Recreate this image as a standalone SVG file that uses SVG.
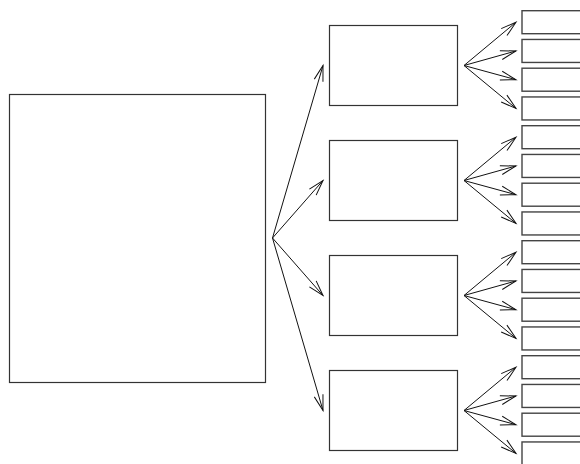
<svg xmlns="http://www.w3.org/2000/svg" width="580" height="464" viewBox="0 0 580 464">
<style>
.box{fill:#fff;stroke:#333;stroke-width:1.2}
.leaf{fill:#fff;stroke:#444;stroke-width:1.4}
.edge{fill:none;stroke:#111;stroke-width:1;marker-end:url(#ah)}
</style>
<defs>
<marker id="ah" markerUnits="userSpaceOnUse" markerWidth="18" markerHeight="12" refX="0" refY="0" viewBox="-16 -6 18 12" orient="auto" overflow="visible">
<path d="M-15.5,-4.5 L0,0 L-15.5,4.5" fill="none" stroke="#111" stroke-width="1"/>
</marker>
</defs>
<rect width="580" height="464" fill="#fff"/>
<g id="root"><rect class="box" x="9.5" y="94.5" width="256" height="288"/></g>
<g id="m1"><rect class="box" x="329.5" y="25.5" width="128" height="80"/></g>
<g id="m2"><rect class="box" x="329.5" y="140.5" width="128" height="80"/></g>
<g id="m3"><rect class="box" x="329.5" y="255.5" width="128" height="80"/></g>
<g id="m4"><rect class="box" x="329.5" y="370.5" width="128" height="80"/></g>
<g id="l1"><rect class="leaf" x="522" y="10.7" width="80" height="23"/></g>
<g id="l2"><rect class="leaf" x="522" y="39.45" width="80" height="23"/></g>
<g id="l3"><rect class="leaf" x="522" y="68.2" width="80" height="23"/></g>
<g id="l4"><rect class="leaf" x="522" y="96.95" width="80" height="23"/></g>
<g id="l5"><rect class="leaf" x="522" y="125.7" width="80" height="23"/></g>
<g id="l6"><rect class="leaf" x="522" y="154.45" width="80" height="23"/></g>
<g id="l7"><rect class="leaf" x="522" y="183.2" width="80" height="23"/></g>
<g id="l8"><rect class="leaf" x="522" y="211.95" width="80" height="23"/></g>
<g id="l9"><rect class="leaf" x="522" y="240.7" width="80" height="23"/></g>
<g id="l10"><rect class="leaf" x="522" y="269.45" width="80" height="23"/></g>
<g id="l11"><rect class="leaf" x="522" y="298.2" width="80" height="23"/></g>
<g id="l12"><rect class="leaf" x="522" y="326.95" width="80" height="23"/></g>
<g id="l13"><rect class="leaf" x="522" y="355.7" width="80" height="23"/></g>
<g id="l14"><rect class="leaf" x="522" y="384.45" width="80" height="23"/></g>
<g id="l15"><rect class="leaf" x="522" y="413.2" width="80" height="23"/></g>
<g id="l16"><rect class="leaf" x="522" y="441.95" width="80" height="23"/></g>
<g id="connectors">
<line class="edge" x1="272.5" y1="238" x2="323" y2="65.5"/>
<line class="edge" x1="272.5" y1="238" x2="323" y2="180.5"/>
<line class="edge" x1="272.5" y1="238" x2="323" y2="295.5"/>
<line class="edge" x1="272.5" y1="238" x2="323" y2="410.5"/>
<line class="edge" x1="464" y1="65.5" x2="516" y2="22.2"/>
<line class="edge" x1="464" y1="65.5" x2="516" y2="50.95"/>
<line class="edge" x1="464" y1="65.5" x2="516" y2="79.7"/>
<line class="edge" x1="464" y1="65.5" x2="516" y2="108.45"/>
<line class="edge" x1="464" y1="180.5" x2="516" y2="137.2"/>
<line class="edge" x1="464" y1="180.5" x2="516" y2="165.95"/>
<line class="edge" x1="464" y1="180.5" x2="516" y2="194.7"/>
<line class="edge" x1="464" y1="180.5" x2="516" y2="223.45"/>
<line class="edge" x1="464" y1="295.5" x2="516" y2="252.2"/>
<line class="edge" x1="464" y1="295.5" x2="516" y2="280.95"/>
<line class="edge" x1="464" y1="295.5" x2="516" y2="309.7"/>
<line class="edge" x1="464" y1="295.5" x2="516" y2="338.45"/>
<line class="edge" x1="464" y1="410.5" x2="516" y2="367.2"/>
<line class="edge" x1="464" y1="410.5" x2="516" y2="395.95"/>
<line class="edge" x1="464" y1="410.5" x2="516" y2="424.7"/>
<line class="edge" x1="464" y1="410.5" x2="516" y2="453.45"/>
</g>
</svg>
